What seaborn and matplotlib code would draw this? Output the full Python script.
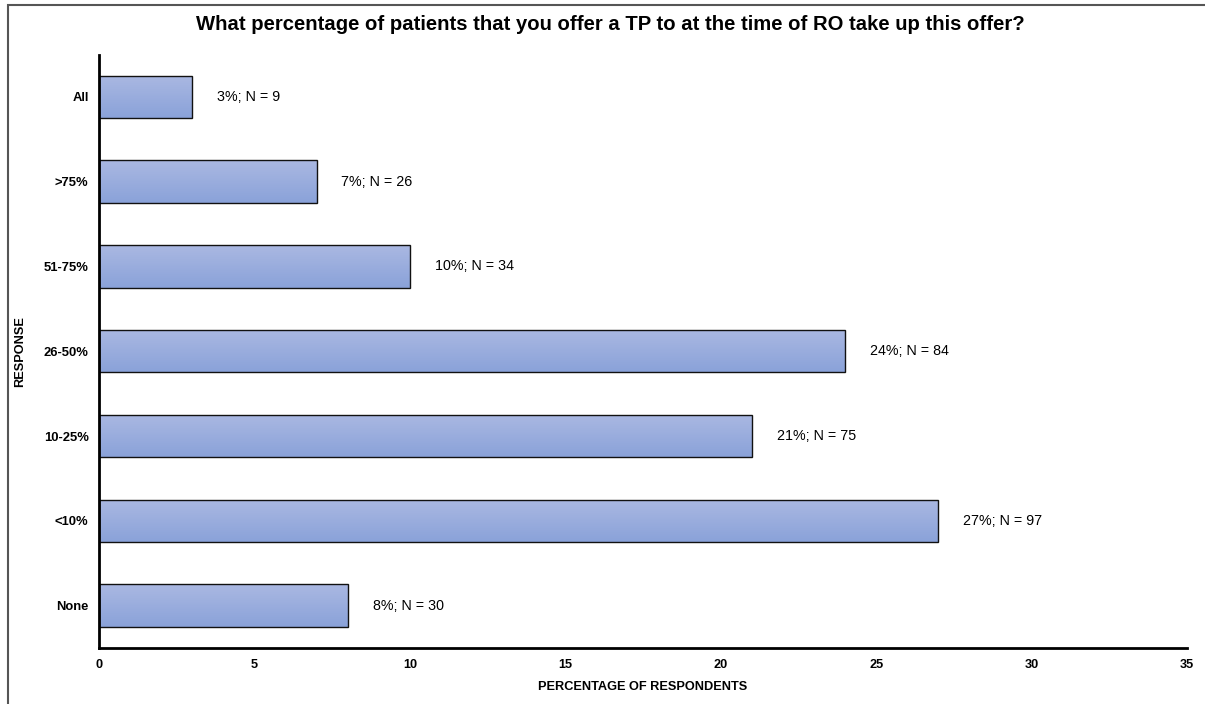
import numpy as np
import pandas as pd
import matplotlib
matplotlib.use("Agg")
import matplotlib.pyplot as plt
import seaborn as sns
from matplotlib.colors import LinearSegmentedColormap
from matplotlib.patches import Rectangle

categories = ["All", ">75%", "51-75%", "26-50%", "10-25%", "<10%", "None"]
percentages = [3, 7, 10, 24, 21, 27, 8]
counts = [9, 26, 34, 84, 75, 97, 30]
xticks = [0, 5, 10, 15, 20, 25, 30, 35]

sns.set_theme(style="white")
plt.rcParams["font.family"] = ["Liberation Sans", "DejaVu Sans"]
plt.rcParams["text.color"] = "black"
plt.rcParams["axes.labelcolor"] = "black"
plt.rcParams["xtick.color"] = "black"
plt.rcParams["ytick.color"] = "black"

df = pd.DataFrame({"response": categories, "pct": percentages, "n": counts})

fig = plt.figure(figsize=(12.05, 7.04), dpi=100)
ax = fig.add_axes([99 / 1205, 1 - 648 / 704, (1187 - 99) / 1205, (648 - 54.5) / 704])

sns.barplot(data=df, x="pct", y="response", order=categories, orient="h",
            width=0.5, color="#99aadd", edgecolor="#111111", linewidth=1.0, ax=ax)

# gradient fill clipped to each bar
cmap = LinearSegmentedColormap.from_list("g", ["#aab8e2", "#8aa2d9"])
grad = np.linspace(0, 1, 64).reshape(-1, 1)
for p in ax.patches:
    x0, y0 = p.get_x(), p.get_y()
    w, h = p.get_width(), p.get_height()
    im = ax.imshow(grad, cmap=cmap, aspect="auto",
                   extent=(x0, x0 + w, y0 + h, y0), origin="upper", zorder=p.get_zorder())
    im.set_clip_path(p)
    p.set_facecolor("none")
    p.set_zorder(p.get_zorder() + 0.5)

ax.set_xlim(0, 35)
ax.set_ylim(len(categories) - 0.5, -0.5)
ax.set_xticks(xticks)
ax.set_xticklabels([str(t) for t in xticks], fontsize=9.2, fontweight="bold")
ax.tick_params(axis="x", length=0, pad=8)
ax.tick_params(axis="y", length=0, pad=7.5)
for lbl in ax.get_yticklabels():
    lbl.set_fontsize(9.4)
    lbl.set_fontweight("bold")

for i, (v, n) in enumerate(zip(percentages, counts)):
    ax.text(v + 0.8, i, f"{v}%; N = {n}", va="center", ha="left", fontsize=10.3, color="black")

ax.set_xlabel("PERCENTAGE OF RESPONDENTS", fontsize=9.2, fontweight="bold")
ax.xaxis.set_label_coords(0.5, -(687 - 648) / (648 - 54.5), transform=ax.transAxes)
ax.set_ylabel("RESPONSE", fontsize=9.2, fontweight="bold")
ax.yaxis.set_label_coords(-(99 - 20) / (1187 - 99), 0.5, transform=ax.transAxes)
ax.xaxis.label.set_va("center")
ax.yaxis.label.set_va("center")

for s in ["top", "right"]:
    ax.spines[s].set_visible(False)
for s in ["left", "bottom"]:
    ax.spines[s].set_color("black")
    ax.spines[s].set_linewidth(2)

fig.text(610 / 1205, 1 - 25 / 704, "What percentage of patients that you offer a TP to at the time of RO take up this offer?",
         ha="center", va="center", fontsize=14.6, fontweight="bold", color="black")

fig.patches.append(Rectangle((8 / 1205, -0.1), 1.2, 1 - 5 / 704 + 0.1, transform=fig.transFigure,
                             fill=False, edgecolor="#555555", linewidth=1.5))

fig.savefig("out.png", dpi=100)
